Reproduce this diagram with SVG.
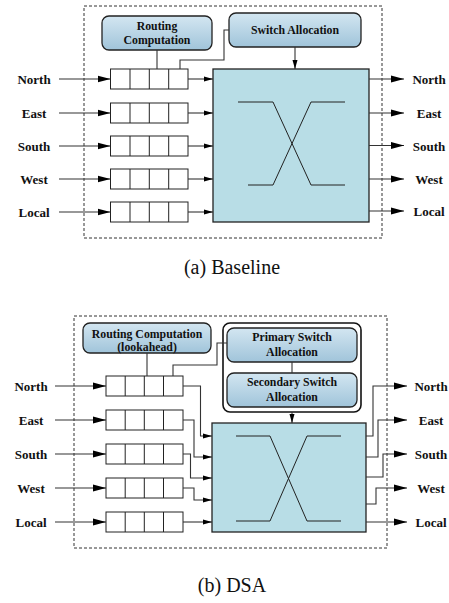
<svg xmlns="http://www.w3.org/2000/svg" width="449" height="603" viewBox="0 0 449 603">
<defs>
<linearGradient id="g" x1="0" y1="0" x2="0" y2="1"><stop offset="0" stop-color="#d3e6f1"/><stop offset="1" stop-color="#a0c4da"/></linearGradient>
<marker id="ab" markerUnits="userSpaceOnUse" markerWidth="14" markerHeight="8" refX="13" refY="4" orient="auto"><path d="M0,0.5 L13,4 L0,7.5 z" fill="#000"/></marker>
<marker id="as" markerUnits="userSpaceOnUse" markerWidth="10" markerHeight="6" refX="9" refY="3" orient="auto"><path d="M0,0.5 L9,3 L0,5.5 z" fill="#000"/></marker>
</defs>
<style>
.dash{fill:none;stroke:#333;stroke-width:1;stroke-dasharray:3,2}
.box{fill:url(#g);stroke:#222;stroke-width:1.3}
.sw{fill:#b8dde6;stroke:#222;stroke-width:1.3}
.buf{fill:#fff;stroke:#222;stroke-width:1}
.ln{fill:none;stroke:#333;stroke-width:1.1}
.cr{fill:none;stroke:#222;stroke-width:1}
.big{marker-end:url(#ab)}
.sm{marker-end:url(#as)}
.lb{font-family:"Liberation Serif","Times New Roman",serif;font-weight:bold;font-size:13px;text-anchor:middle;fill:#111}
.bt{font-family:"Liberation Serif","Times New Roman",serif;font-weight:bold;font-size:11.8px;text-anchor:middle;fill:#111}
.cap{font-family:"Liberation Serif","Times New Roman",serif;font-size:20px;text-anchor:middle;fill:#111}
</style>

<!-- (a) Baseline -->
<rect class="dash" x="84" y="6" width="298" height="232"/>
<g id="a-rc"><rect class="box" x="102" y="16" width="110" height="34" rx="7"/><text class="bt" x="157" y="30">Routing</text><text class="bt" x="157" y="44">Computation</text></g>
<g id="a-sa"><rect class="box" x="229" y="13" width="132" height="34" rx="7"/><text class="bt" x="295" y="34">Switch Allocation</text></g>
<g id="a-switch"><rect class="sw" x="213" y="69" width="156" height="153"/>
<path class="cr" d="M238,102 H273 L311,185 H345 M248,185 H273 L311,102 H345"/></g>
<g id="a-buffers">
<g id="a-buf-n"><rect class="buf" x="110.5" y="69" width="77.5" height="20"/><path class="buf" d="M130,69v20M149.3,69v20M168.7,69v20"/></g>
<g id="a-buf-e"><rect class="buf" x="110.5" y="103" width="77.5" height="20"/><path class="buf" d="M130,103v20M149.3,103v20M168.7,103v20"/></g>
<g id="a-buf-s"><rect class="buf" x="110.5" y="136" width="77.5" height="20"/><path class="buf" d="M130,136v20M149.3,136v20M168.7,136v20"/></g>
<g id="a-buf-w"><rect class="buf" x="110.5" y="169" width="77.5" height="20"/><path class="buf" d="M130,169v20M149.3,169v20M168.7,169v20"/></g>
<g id="a-buf-l"><rect class="buf" x="110.5" y="202" width="77.5" height="20"/><path class="buf" d="M130,202v20M149.3,202v20M168.7,202v20"/></g>
</g>
<g id="a-labels">
<text class="lb" x="34" y="83.5">North</text><text class="lb" x="34" y="117.5">East</text><text class="lb" x="34" y="150.5">South</text><text class="lb" x="34" y="183.5">West</text><text class="lb" x="34" y="216.5">Local</text>
<text class="lb" x="429" y="83.5">North</text><text class="lb" x="429" y="117.5">East</text><text class="lb" x="429" y="150.5">South</text><text class="lb" x="429" y="183.5">West</text><text class="lb" x="429" y="215.5">Local</text>
</g>
<g id="a-connectors">
<path class="ln big" d="M59,79 H110.5"/><path class="ln big" d="M59,113 H110.5"/><path class="ln big" d="M59,146 H110.5"/><path class="ln big" d="M59,179 H110.5"/><path class="ln big" d="M59,212 H110.5"/>
<path class="ln sm" d="M188,79 H213"/><path class="ln sm" d="M188,113 H213"/><path class="ln sm" d="M188,146 H213"/><path class="ln sm" d="M188,179 H213"/><path class="ln sm" d="M188,212 H213"/>
<path class="ln big" d="M369,79 H404"/><path class="ln big" d="M369,113 H404"/><path class="ln big" d="M369,145.5 H404"/><path class="ln big" d="M369,179 H404"/><path class="ln big" d="M369,211 H404"/>
<path class="ln" d="M157,50 V69"/>
<path class="ln" d="M180,69 V60 H224 V30 H229"/>
<path class="ln sm" d="M295,47 V69"/>
</g>
<text class="cap" x="232" y="274">(a) Baseline</text>

<!-- (b) DSA -->
<rect class="dash" x="74" y="316" width="313" height="232"/>
<g id="b-rc"><rect class="box" x="83" y="323" width="128" height="30" rx="7"/><text class="bt" x="147" y="338">Routing Computation</text><text class="bt" x="147" y="351">(lookahead)</text></g>
<g id="b-sa-group"><rect x="223" y="323" width="138" height="89" rx="7" fill="#fff" stroke="#111" stroke-width="1.6"/>
<g id="b-psa"><rect class="box" x="227" y="328" width="130" height="34" rx="7"/><text class="bt" x="292" y="341">Primary Switch</text><text class="bt" x="292" y="356">Allocation</text></g>
<g id="b-ssa"><rect class="box" x="227" y="373" width="130" height="34" rx="7"/><text class="bt" x="292" y="386">Secondary Switch</text><text class="bt" x="292" y="401">Allocation</text></g>
</g>
<g id="b-switch"><rect class="sw" x="212" y="423" width="154" height="109"/>
<path class="cr" d="M236,436 H270 L307,521 H341 M236,521 H270 L307,436 H341"/></g>
<g id="b-buffers">
<g id="b-buf-n"><rect class="buf" x="106" y="376" width="77" height="20"/><path class="buf" d="M125.2,376v20M144.3,376v20M163.5,376v20"/></g>
<g id="b-buf-e"><rect class="buf" x="106" y="410" width="77" height="20"/><path class="buf" d="M125.2,410v20M144.3,410v20M163.5,410v20"/></g>
<g id="b-buf-s"><rect class="buf" x="106" y="444" width="77" height="20"/><path class="buf" d="M125.2,444v20M144.3,444v20M163.5,444v20"/></g>
<g id="b-buf-w"><rect class="buf" x="106" y="478" width="77" height="20"/><path class="buf" d="M125.2,478v20M144.3,478v20M163.5,478v20"/></g>
<g id="b-buf-l"><rect class="buf" x="106" y="512" width="77" height="20"/><path class="buf" d="M125.2,512v20M144.3,512v20M163.5,512v20"/></g>
</g>
<g id="b-labels">
<text class="lb" x="31" y="390.5">North</text><text class="lb" x="31" y="424.5">East</text><text class="lb" x="31" y="458.5">South</text><text class="lb" x="31" y="492.5">West</text><text class="lb" x="31" y="526.5">Local</text>
<text class="lb" x="431" y="390.5">North</text><text class="lb" x="431" y="424.5">East</text><text class="lb" x="431" y="458.5">South</text><text class="lb" x="431" y="492.5">West</text><text class="lb" x="431" y="526.5">Local</text>
</g>
<g id="b-connectors">
<path class="ln big" d="M55,386 H106"/><path class="ln big" d="M55,420 H106"/><path class="ln big" d="M55,454 H106"/><path class="ln big" d="M55,488 H106"/><path class="ln big" d="M55,522 H106"/>
<path class="ln sm" d="M183,386 H200.5 V436 H212"/>
<path class="ln sm" d="M183,420 H194 V457 H212"/>
<path class="ln sm" d="M183,454 H190.5 V478 H212"/>
<path class="ln sm" d="M183,488 H194 V500 H212"/>
<path class="ln sm" d="M183,522 H212"/>
<path class="ln big" d="M366,436 H373 V386 H407"/>
<path class="ln big" d="M366,457 H378 V420 H407"/>
<path class="ln big" d="M366,477 H383 V454 H407"/>
<path class="ln big" d="M366,504 H376 V488 H407"/>
<path class="ln big" d="M366,522 H407"/>
<path class="ln" d="M147,353 V376"/>
<path class="ln" d="M173,376 V365 H217 V343 H227"/>
<path class="ln" d="M292,362 V373"/>
<path class="ln sm" d="M292,412 V423"/>
</g>
<text class="cap" x="232" y="592">(b) DSA</text>
</svg>
